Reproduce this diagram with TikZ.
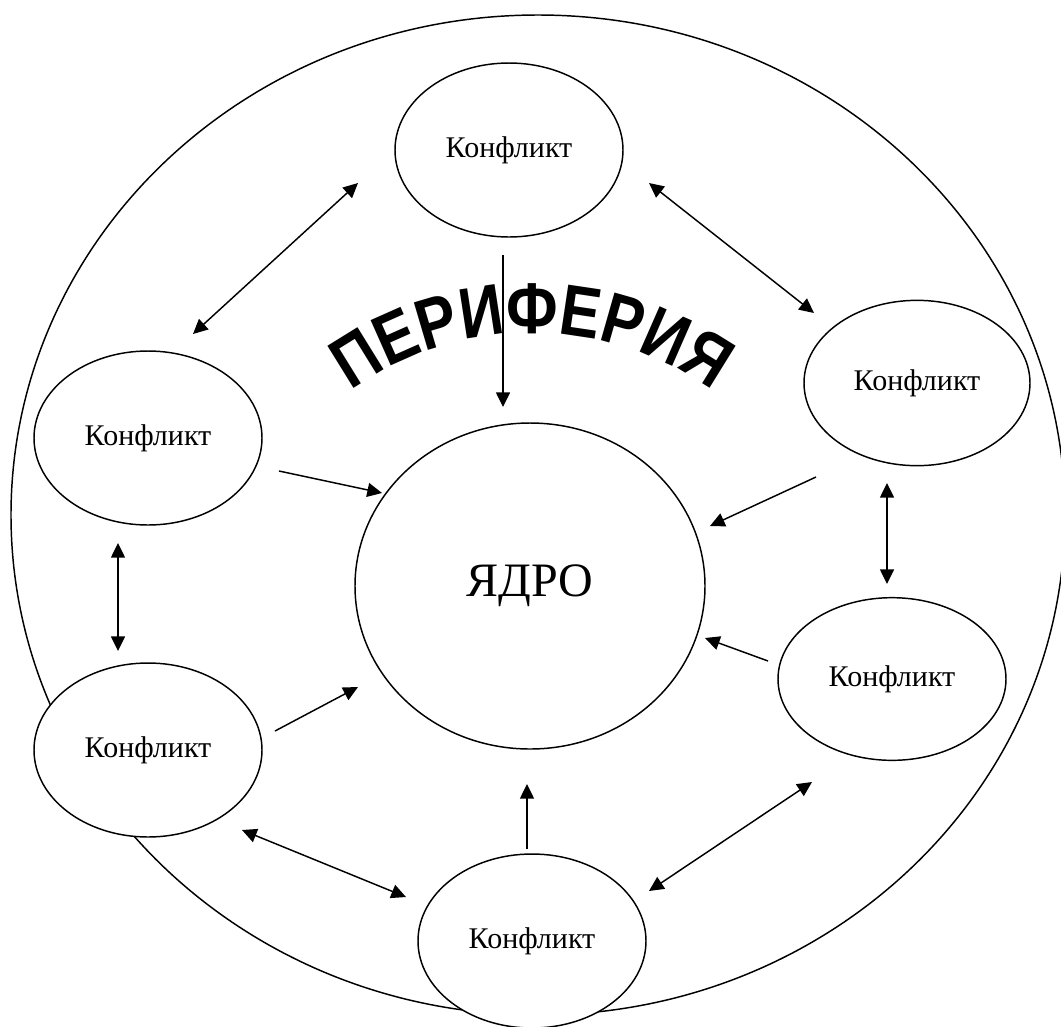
\documentclass[tikz,border=0pt]{standalone}
\usepackage{fontspec}
\setmainfont{Liberation Serif}
\newfontfamily\periffont[FakeStretch=0.84]{Liberation Sans}
\usetikzlibrary{shapes.geometric,arrows.meta,decorations.text}

\begin{document}
\begin{tikzpicture}[x=0.75pt, y=-0.75pt, line width=1.1pt,
    konflikt/.style={ellipse, draw, fill=white, inner sep=0pt,
      minimum width=171pt, minimum height=130.5pt, font=\fontsize{22.5}{22.5}\selectfont},
    arr/.style={-{Triangle[length=11pt,width=10.5pt]}},
    darr/.style={{Triangle[length=11pt,width=10.5pt]}-{Triangle[length=11pt,width=10.5pt]}}]
    \useasboundingbox (0,0) rectangle (1061,1026);

    % Periphery
    \draw (538,515) ellipse [x radius=527, y radius=500];
    \path[decorate, decoration={text along path, text align=center,
        text={|\periffont\bfseries\fontsize{54}{54}\selectfont|ПЕРИФЕРИЯ}}]
        (312.8,423.8) arc[start angle=225, end angle=315, radius=310];

    % Conflicts and the core
    \node[konflikt] (ktop) at (509,150) {Конфликт};
    \node[konflikt] (kul) at (148,438) {Конфликт};
    \node[konflikt] (kll) at (148,750) {Конфликт};
    \node[konflikt, minimum width=169.5pt, minimum height=124pt] (kur) at (917,383) {Конфликт};
    \node[konflikt, minimum height=122pt] (klr) at (892,679) {Конфликт};
    \node[konflikt] (kbot) at (532,941) {Конфликт};
    \node[ellipse, draw, fill=white, inner sep=0pt, minimum width=262.5pt,
      minimum height=244.5pt, font=\fontsize{36}{36}\selectfont] (core) at (530,586) {ЯДРО};

    % Arrow ends
    \coordinate (tl1) at (358,183); \coordinate (tl2) at (193,334);
    \coordinate (tr1) at (649,183); \coordinate (tr2) at (814,313);
    \coordinate (lv1) at (118,543); \coordinate (lv2) at (118,651);
    \coordinate (rv1) at (887,483); \coordinate (rv2) at (887,584);
    \coordinate (bl1) at (242,830); \coordinate (bl2) at (406,897);
    \coordinate (br1) at (812,782); \coordinate (br2) at (649,891);
    \coordinate (t1) at (503,255); \coordinate (t2) at (503,407);
    \coordinate (ul1) at (279,471); \coordinate (ul2) at (382,493);
    \coordinate (ur1) at (816,477); \coordinate (ur2) at (710,526);
    \coordinate (ll1) at (275,731); \coordinate (ll2) at (358,687);
    \coordinate (lr1) at (768,661); \coordinate (lr2) at (705,638);
    \coordinate (b1) at (527,849); \coordinate (b2) at (527,784);

    % Between the conflicts
    \draw[darr] (tl1) -- (tl2);
    \draw[darr] (tr1) -- (tr2);
    \draw[darr] (lv1) -- (lv2);
    \draw[darr] (rv1) -- (rv2);
    \draw[darr] (bl1) -- (bl2);
    \draw[darr] (br1) -- (br2);

    % Into the core
    \draw[arr] (t1) -- (t2);
    \draw[arr] (ul1) -- (ul2);
    \draw[arr] (ur1) -- (ur2);
    \draw[arr] (ll1) -- (ll2);
    \draw[arr] (lr1) -- (lr2);
    \draw[arr] (b1) -- (b2);
\end{tikzpicture}
\end{document}
